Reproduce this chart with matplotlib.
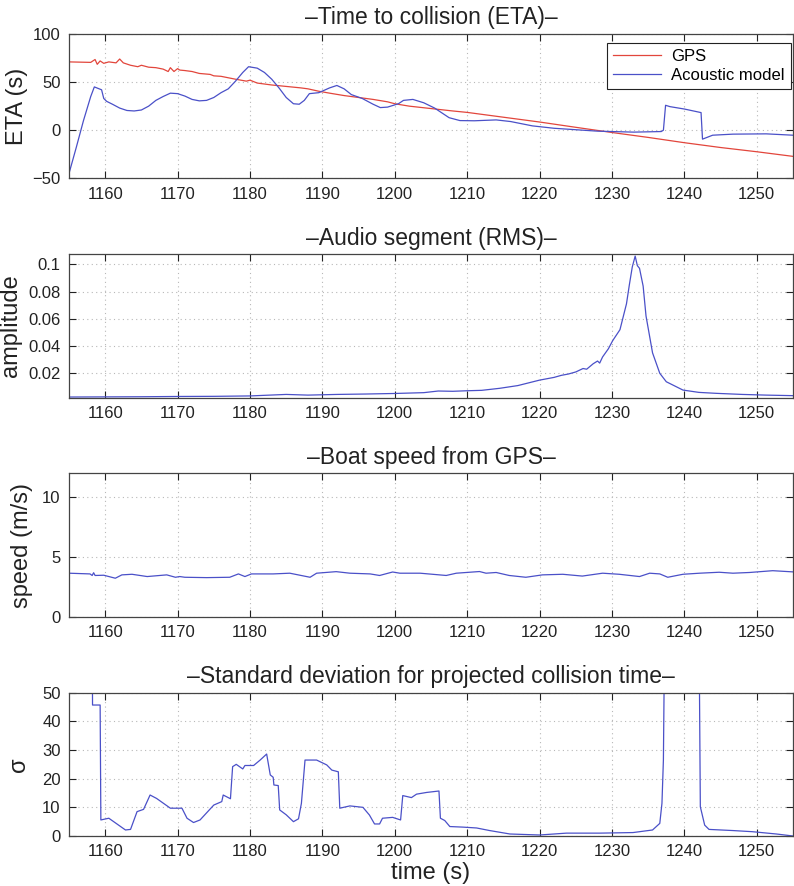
import matplotlib
matplotlib.use("Agg")
import matplotlib.pyplot as plt

plt.rcParams['font.family'] = ['Liberation Sans', 'DejaVu Sans']

# ---------------- data ----------------
gps_t = [1155, 1158, 1158.6, 1158.9, 1159.3, 1159.8, 1160.5, 1161.5, 1162, 1162.5,
         1163.5, 1164.5, 1165, 1166, 1167, 1168, 1168.7, 1169, 1169.5, 1170, 1170.3,
         1171, 1172, 1173, 1174.5, 1175, 1176, 1178, 1179.5, 1180, 1181, 1183, 1185,
         1187, 1188, 1189.5, 1191, 1193, 1195, 1197, 1199, 1200, 1202, 1205, 1208,
         1210, 1215, 1220, 1225, 1230, 1235, 1240, 1245, 1250, 1255]
gps_eta = [71, 70.5, 73.5, 68.5, 72, 69.5, 71, 70, 74, 70,
           67.5, 66, 67.5, 65.5, 65, 63.5, 61, 65, 61, 64, 62.5,
           62, 61, 59, 58, 56.5, 56, 53, 51, 52, 49, 47, 45.5,
           44, 43, 40.5, 38.5, 36, 34, 32, 29.5, 27.5, 25, 22.5, 20,
           18.5, 13.5, 8.5, 3, -2.4, -7.5, -13, -18, -22.4, -27.2]

ac_t = [1155, 1156, 1157, 1158, 1158.5, 1159, 1159.5, 1159.8, 1160.2, 1161, 1162,
        1163, 1164, 1165, 1166, 1167, 1168, 1169, 1170, 1171, 1172, 1173, 1174,
        1175, 1176, 1177, 1178, 1179, 1179.8, 1181, 1182, 1183, 1184, 1185, 1186,
        1186.8, 1187.5, 1188.2, 1189.5, 1191, 1192, 1193, 1194, 1195.5, 1197, 1198,
        1199, 1200.5, 1201.2, 1202.5, 1204, 1205.5, 1206.5, 1207.5, 1209, 1211,
        1214, 1216, 1219, 1222, 1224, 1228, 1233, 1236.8, 1237.1, 1237.4, 1238,
        1240, 1242.3, 1242.5, 1243.9, 1246.7, 1251.3, 1255]
ac_eta = [-45, -18, 10, 35, 45, 43.5, 42, 33, 30, 27, 23,
          20.5, 20, 21, 25, 31, 35, 38.5, 38, 35.5, 32, 30.5, 31,
          34, 39, 43, 51, 60, 66, 64.5, 60, 53, 44, 34, 27.5,
          27, 31, 38, 39, 44, 46.5, 43, 37, 33, 27, 23.5,
          24, 27.5, 31, 32, 28.5, 23, 18, 13, 10, 9.8,
          10.7, 9, 4.5, 2, 1, -1, -2, -1.4, 0, 25.9, 24.5,
          22, 18.3, -9.3, -5.2, -4.1, -3.8, -5.2]

rms_t = [1155, 1160, 1165, 1170, 1175, 1180, 1185, 1188, 1192, 1196, 1200, 1204,
         1206, 1208, 1210, 1212, 1214.5, 1217, 1220, 1222, 1223, 1224, 1225, 1226,
         1226.5, 1227.4, 1228, 1228.3, 1228.7, 1229.5, 1230.1, 1231.1, 1232, 1232.4,
         1232.8, 1233.2, 1233.5, 1233.8, 1234.3, 1234.7, 1235.6, 1236.6, 1237.5,
         1239.8, 1242, 1244.4, 1248, 1251.3, 1255]
rms_amp = [0.0026, 0.0027, 0.0028, 0.003, 0.0031, 0.0034, 0.0045, 0.004, 0.0045,
           0.0048, 0.0052, 0.0058, 0.007, 0.0068, 0.0072, 0.0075, 0.009, 0.011,
           0.015, 0.017, 0.0185, 0.0195, 0.021, 0.0235, 0.023, 0.027, 0.029, 0.0275,
           0.032, 0.038, 0.044, 0.052, 0.071, 0.085, 0.098, 0.106, 0.099, 0.097,
           0.084, 0.062, 0.035, 0.02, 0.0138, 0.0077, 0.006, 0.0053, 0.0045, 0.004,
           0.0036]

spd_t = [1155, 1157.9, 1158.2, 1158.4, 1158.6, 1159.8, 1161.4, 1162.3, 1163.7,
         1165.8, 1168.5, 1169.7, 1170.3, 1171, 1174, 1177.2, 1178.4, 1179.3, 1180.2,
         1183.2, 1185.5, 1188.3, 1189.2, 1191.9, 1193.8, 1196.6, 1197.9, 1199.7,
         1200.7, 1203.5, 1207.1, 1208.5, 1211.7, 1212.6, 1214, 1215.8, 1218.1,
         1220.4, 1223.2, 1225.9, 1228.7, 1231, 1233.8, 1235.2, 1236.6, 1237.7,
         1239.8, 1242.1, 1244.8, 1246.7, 1249, 1252.2, 1255]
spd_v = [3.64, 3.58, 3.45, 3.68, 3.45, 3.47, 3.22, 3.5, 3.55,
         3.36, 3.5, 3.3, 3.36, 3.3, 3.27, 3.3, 3.58, 3.36, 3.58,
         3.58, 3.64, 3.3, 3.64, 3.77, 3.64, 3.58, 3.45, 3.74,
         3.64, 3.64, 3.45, 3.64, 3.78, 3.64, 3.7, 3.45, 3.3,
         3.5, 3.55, 3.4, 3.64, 3.55, 3.36, 3.64, 3.58, 3.3,
         3.55, 3.64, 3.72, 3.64, 3.7, 3.85, 3.75]

sd_t = [1155, 1158.2, 1158.25, 1159.3, 1159.4, 1160.5, 1162.8, 1163.5, 1164.4,
        1165.3, 1166.2, 1167.1, 1169, 1170.6, 1171.3, 1172.2, 1173.1, 1175, 1176.1,
        1176.3, 1177.3, 1177.6, 1178.1, 1179, 1179.3, 1180.5, 1181.4, 1182.3,
        1182.8, 1183.2, 1183.3, 1183.9, 1184.1, 1185, 1186, 1186.7, 1187.1, 1187.6,
        1189.2, 1190.6, 1191.3, 1192.2, 1192.4, 1193.8, 1195.6, 1196.5, 1197.2,
        1197.9, 1198.3, 1199.7, 1200.8, 1201.1, 1202.3, 1203, 1204.4, 1206.1,
        1206.3, 1206.9, 1207.6, 1209.4, 1211.3, 1213.1, 1215.9, 1220, 1223.7,
        1228.3, 1232.9, 1235.6, 1236.6, 1236.9, 1237.1, 1237.3, 1242.0, 1242.2,
        1242.8, 1243.4, 1246.7, 1249.4, 1252.7, 1255]
sd_v = [80, 80, 45.7, 45.7, 5.6, 6.2, 2.1, 2.3, 8.5,
        9.3, 14.3, 13.1, 9.7, 9.7, 6.2, 4.7, 5.6, 10.8, 12,
        14.3, 13, 24.2, 25, 23.4, 24.6, 24.6, 26.5, 28.6,
        21.3, 20.5, 17.8, 17.6, 9.1, 7.4, 5, 6, 11.4, 26.5,
        26.5, 24.8, 23, 22.4, 9.7, 10.5, 10, 7.3, 4.2,
        4.2, 6.2, 6.5, 5.6, 14.1, 13.4, 14.6, 15.2, 15.7,
        6.2, 5.4, 3.3, 3.1, 2.8, 1.9, 0.7, 0.35, 1.0,
        1.0, 1.2, 2.1, 4.4, 11.4, 26.5, 80, 80, 10.2,
        3.8, 2.3, 1.9, 1.5, 0.7, 0.0]

xticks = [1160, 1170, 1180, 1190, 1200, 1210, 1220, 1230, 1240, 1250]

# ---------------- style ----------------
RED = '#e2463c'
BLUE = '#4a50c8'
W, H = 794, 886
fig = plt.figure(figsize=(W / 100, H / 100), dpi=100)


def make_ax(top_px, bot_px):
    left, right = 69, 793
    return fig.add_axes([left / W, 1 - bot_px / H, (right - left) / W, (bot_px - top_px) / H])


def style(ax, title, ylabel, label_x):
    ax.set_xlim(1155, 1255)
    ax.set_xticks(xticks)
    ax.grid(True, color='#b8b8b8', linestyle=(0, (1, 3)), linewidth=0.8)
    ax.tick_params(direction='in', length=5, width=0.8, top=True, right=True,
                   labelsize=12, colors='#222222', pad=6)
    for s in ax.spines.values():
        s.set_color('#444444')
        s.set_linewidth(0.9)
    ax.set_title(title, fontsize=16.5, color='#222222', pad=7)
    ax.set_ylabel(ylabel, fontsize=17, color='#222222')
    ax.yaxis.set_label_coords(label_x, 0.5)


ax1 = make_ax(34, 178.3)
ax1.plot(gps_t, gps_eta, color=RED, lw=0.9, label='GPS')
ax1.plot(ac_t, ac_eta, color=BLUE, lw=0.9, label='Acoustic model')
ax1.set_ylim(-50, 100)
ax1.set_yticks([-50, 0, 50, 100])
style(ax1, '\u2013Time to collision (ETA)\u2013', 'ETA (s)', -0.056)
leg = ax1.legend(loc='upper right', bbox_to_anchor=(0.997, 0.938), borderaxespad=0,
                 fontsize=12, handlelength=2.9, labelspacing=0.25, borderpad=0.35,
                 handletextpad=0.6, fancybox=False, framealpha=1)
leg.get_frame().set_edgecolor('#222222')
leg.get_frame().set_linewidth(0.8)

ax2 = make_ax(254.3, 397.7)
ax2.plot(rms_t, rms_amp, color=BLUE, lw=0.9)
ax2.set_ylim(0.0021, 0.1073)
ax2.set_yticks([0.02, 0.04, 0.06, 0.08, 0.1])
ax2.set_yticklabels(['0.02', '0.04', '0.06', '0.08', '0.1'])
style(ax2, '\u2013Audio segment (RMS)\u2013', 'amplitude', -0.065)

ax3 = make_ax(473.3, 616.7)
ax3.plot(spd_t, spd_v, color=BLUE, lw=0.9)
ax3.set_ylim(0, 12)
ax3.set_yticks([0, 5, 10])
style(ax3, '\u2013Boat speed from GPS\u2013', 'speed (m/s)', -0.05)

ax4 = make_ax(692.7, 836)
ax4.plot(sd_t, sd_v, color=BLUE, lw=0.9)
ax4.set_ylim(0, 50)
ax4.set_yticks([0, 10, 20, 30, 40, 50])
style(ax4, '\u2013Standard deviation for projected collision time\u2013', '\u03c3', -0.054)
ax4.set_xlabel('time (s)', fontsize=17, color='#222222', labelpad=2)

fig.savefig('out.png', dpi=100)
